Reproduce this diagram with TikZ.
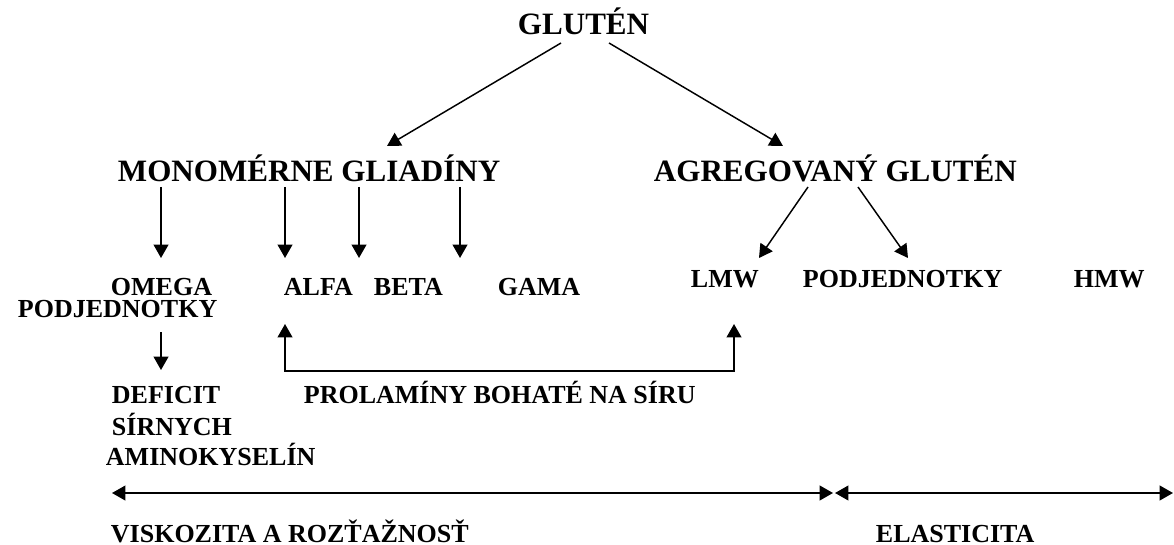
\documentclass[tikz,border=0pt]{standalone}
\usepackage{fontspec}
\setmainfont{Liberation Serif}
\usetikzlibrary{arrows.meta}

\begin{document}
\begin{tikzpicture}[x=0.75pt, y=-0.75pt, >={Triangle[length=10pt,width=11pt]}, line width=1.4pt,
  big/.style={font=\bfseries\fontsize{23.3}{26}\selectfont, inner sep=0pt, anchor=base west},
  small/.style={font=\bfseries\fontsize{19.5}{22}\selectfont, inner sep=0pt, anchor=base west}]
  \useasboundingbox (0,0) rectangle (1174,545);

  % Top level
  \node[big] (gluten) at (517,35) {GLUTÉN};
  \node[big] (mono) at (117,182) {MONOMÉRNE GLIADÍNY};
  \node[big] (agreg) at (653,182) {AGREGOVANÝ GLUTÉN};

  % Subunits
  \node[small] (omega) at (110,296) {OMEGA};
  \node[small] (podL) at (17,317) {PODJEDNOTKY};
  \node[small] (alfa) at (283,296) {ALFA};
  \node[small] (beta) at (373,296) {BETA};
  \node[small] (gama) at (497,296) {GAMA};
  \node[small] (lmw) at (690,287) {LMW};
  \node[small] (podR) at (802,287) {PODJEDNOTKY};
  \node[small] (hmw) at (1073,287) {HMW};

  % Lower text
  \node[small] (deficit) at (111,403) {DEFICIT};
  \node[small] (sirnych) at (111,435) {SÍRNYCH};
  \node[small] (amino) at (105,465) {AMINOKYSELÍN};
  \node[small] (prolam) at (303,403) {PROLAMÍNY BOHATÉ NA SÍRU};
  \node[small] (visk) at (110,542) {VISKOZITA A ROZŤAŽNOSŤ};
  \node[small] (elast) at (875,542) {ELASTICITA};

  % Arrow ends
  \coordinate (gL) at (561,43);
  \coordinate (gR) at (609,43);
  \coordinate (monoTip) at (387,146);
  \coordinate (agregTip) at (783,146);
  \coordinate (aL) at (808,187);
  \coordinate (aR) at (858,187);
  \coordinate (lmwTip) at (759,258);
  \coordinate (podTip) at (908,258);
  \coordinate (alfaUp) at (285,324);
  \coordinate (lmwUp) at (734,324);
  \coordinate (vL) at (112,493);
  \coordinate (vR) at (833,493);
  \coordinate (eL) at (835,493);
  \coordinate (eR) at (1173,493);

  % Gluten splits
  \draw[->, line width=1.1pt] (gL) -- (monoTip);
  \draw[->, line width=1.1pt] (gR) -- (agregTip);

  % Gliadin fractions
  \foreach \x in {161,285,359,460} { \draw[->] (\x,187) -- (\x,258); }

  % Glutenin fractions
  \draw[->, line width=1.1pt] (aL) -- (lmwTip);
  \draw[->, line width=1.1pt] (aR) -- (podTip);

  % Omega to deficit
  \draw[->] (161,332) -- (161,370);

  % Sulphur rich bracket
  \draw[<->] (alfaUp) -- (285,371) -- (734,371) -- (lmwUp);

  % Property ranges
  \draw[<->] (vL) -- (vR);
  \draw[<->] (eL) -- (eR);
\end{tikzpicture}
\end{document}
